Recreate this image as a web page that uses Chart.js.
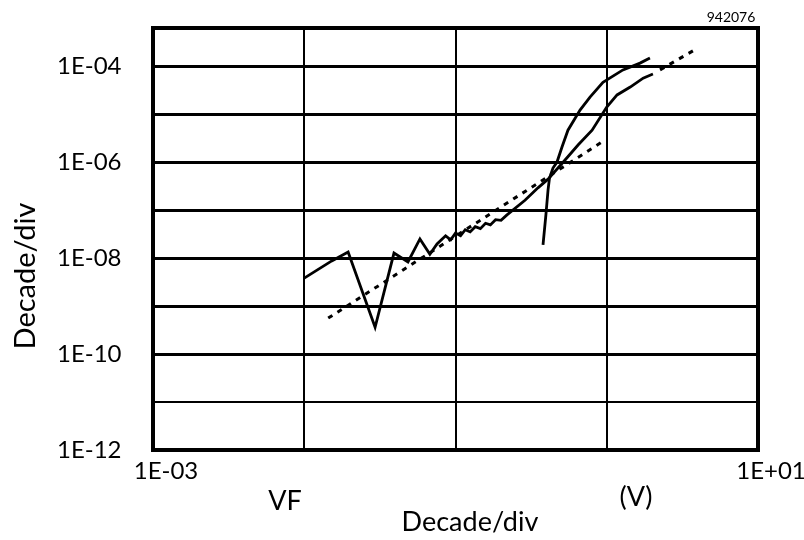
<!DOCTYPE html>
<html>
<head>
<meta charset="utf-8">
<script src="https://cdn.jsdelivr.net/npm/chart.js@4/dist/chart.umd.min.js"></script>
<style>
  body { margin: 0; background: #fff; }
</style>
</head>
<body>
<canvas id="chart" width="804" height="540"></canvas>
<script>
// axis decades and their labels (only every second one is labelled on Y)
var xTicks = [1e-3, 1e-2, 1e-1, 1, 10];
var xTickLabels = ['1E-03', '', '', '', '1E+01'];
var yTicks = [1e-12, 1e-11, 1e-10, 1e-9, 1e-8, 1e-7, 1e-6, 1e-5, 1e-4];
var yTickLabels = ['1E-12', '', '1E-10', '', '1E-08', '', '1E-06', '', '1E-04'];

// noisy low-bias curve, running into the lower branch
var curveAX = [0.0100, 0.0152, 0.0195, 0.0294, 0.0392, 0.0485, 0.0582, 0.0677, 0.0755,
  0.086, 0.093, 0.100, 0.108, 0.116, 0.125, 0.135, 0.146, 0.158, 0.170, 0.184, 0.200, 0.219,
  0.288, 0.351, 0.409, 0.53, 0.646, 0.80, 1.0, 1.17, 1.43, 1.74, 2.02];
var curveAY = [3.8e-9, 8.7e-9, 1.33e-8, 3.6e-10, 1.27e-8, 8.3e-9, 2.5e-8, 1.2e-8, 1.96e-8,
  2.9e-8, 2.4e-8, 3.3e-8, 2.9e-8, 3.9e-8, 3.5e-8, 4.5e-8, 4.1e-8, 5.3e-8, 4.9e-8, 6.3e-8, 6.1e-8, 7.9e-8,
  1.6e-7, 2.9e-7, 4.4e-7, 1.1e-6, 2.26e-6, 4.6e-6, 1.4e-5, 2.5e-5, 3.65e-5, 5.6e-5, 6.8e-5];

// steep curve rising from ~0.38 V
var curveBX = [0.379, 0.396, 0.409, 0.418, 0.441, 0.469, 0.506, 0.554, 0.666, 0.775, 0.944, 1.28, 1.66, 1.93];
var curveBY = [1.87e-8, 7.9e-8, 2.6e-7, 4.6e-7, 7.5e-7, 1.0e-6, 2.05e-6, 4.6e-6, 1.21e-5, 2.26e-5, 4.6e-5, 8.3e-5, 1.15e-4, 1.47e-4];

// dotted fit lines
var fitAX = [0.0144, 0.974];
var fitAY = [5.6e-10, 2.87e-6];
var fitBX = [2.25, 4.0];
var fitBY = [8.3e-5, 2.37e-4];

function pts(xs, ys) {
  return xs.map(function (x, i) { return { x: x, y: ys[i] }; });
}

var FONT = 'Lato';

// frame round the plot plus the loose texts
var extras = {
  id: 'extras',
  afterDraw: function (chart) {
    var a = chart.chartArea, ctx = chart.ctx;
    ctx.save();
    ctx.strokeStyle = '#000';
    ctx.lineWidth = 4;
    ctx.strokeRect(a.left, a.top, a.right - a.left, a.bottom - a.top);

    ctx.fillStyle = '#000';
    ctx.textAlign = 'center';
    ctx.textBaseline = 'middle';
    ctx.font = '27px ' + FONT;
    ctx.fillText('Decade/div', 470, 522);
    ctx.fillText('VF', 285, 501);
    ctx.fillText('(V)', 636, 497);
    ctx.font = '14px ' + FONT;
    ctx.fillText('942076', 731, 17);

    ctx.translate(26, 276);
    ctx.rotate(-Math.PI / 2);
    ctx.font = '29px ' + FONT;
    ctx.fillText('Decade/div', 0, 0);
    ctx.restore();
  }
};

var solid = { showLine: true, pointRadius: 0, borderColor: '#000', borderWidth: 2.8, tension: 0, fill: false };
var dotted = { showLine: true, pointRadius: 0, borderColor: '#000', borderWidth: 3, borderDash: [5, 6] };

new Chart(document.getElementById('chart'), {
  type: 'scatter',
  data: {
    datasets: [
      Object.assign({ data: pts(curveAX, curveAY) }, solid),
      Object.assign({ data: pts(curveBX, curveBY) }, solid),
      Object.assign({ data: pts(fitAX, fitAY) }, dotted),
      Object.assign({ data: pts(fitBX, fitBY) }, dotted)
    ]
  },
  options: {
    responsive: false,
    animation: false,
    layout: { padding: { left: 57, top: 28, right: 46, bottom: 0 } },
    plugins: { legend: { display: false }, tooltip: { enabled: false } },
    scales: {
      x: {
        type: 'logarithmic',
        min: 1e-3,
        max: 10,
        afterBuildTicks: function (s) { s.ticks = xTicks.map(function (v) { return { value: v }; }); },
        afterFit: function (s) { s.height = 90; },
        ticks: {
          autoSkip: false,
          maxRotation: 0,
          padding: 7,
          labelOffset: 13,
          color: '#000',
          font: { family: FONT, size: 24 },
          callback: function (v, i) { return xTickLabels[i]; }
        },
        grid: { color: '#000', lineWidth: 2, drawTicks: false },
        border: { display: false }
      },
      y: {
        type: 'logarithmic',
        min: 1e-12,
        max: 6.2e-4,
        afterBuildTicks: function (s) { s.ticks = yTicks.map(function (v) { return { value: v }; }); },
        afterFit: function (s) { s.width = 96; },
        ticks: {
          autoSkip: false,
          crossAlign: 'far',
          color: '#000',
          font: { family: FONT, size: 24 },
          callback: function (v, i) { return yTickLabels[i]; }
        },
        grid: {
          color: '#000',
          drawTicks: false,
          lineWidth: function (c) { return c.tick && c.tick.value === 1e-11 ? 2 : 3; }
        },
        border: { display: false }
      }
    }
  },
  plugins: [extras]
});
</script>
</body>
</html>
